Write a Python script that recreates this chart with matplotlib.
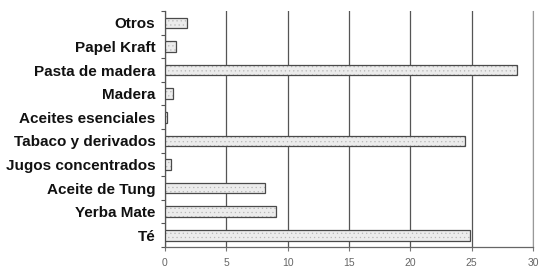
import matplotlib
matplotlib.use("Agg")
import matplotlib.pyplot as plt
import numpy as np

categorias = ["Otros", "Papel Kraft", "Pasta de madera", "Madera", "Aceites esenciales",
              "Tabaco y derivados", "Jugos concentrados", "Aceite de Tung", "Yerba Mate", "Té"]
valores = [1.8, 0.9, 28.7, 0.65, 0.2, 24.5, 0.45, 8.15, 9.05, 24.9]
xticks = [0, 5, 10, 15, 20, 25, 30]

plt.rcParams["font.family"] = ["Liberation Sans", "DejaVu Sans"]
plt.rcParams["hatch.linewidth"] = 0.4

fig = plt.figure(figsize=(5.5, 2.76), dpi=100)
ax = fig.add_axes([0.3, 0.105, 0.669, 0.855])

y = np.arange(len(categorias))
ax.barh(y, valores, height=0.45, color="#ececec", edgecolor="#b8b8b8", hatch="....",
        lw=0, zorder=3)
ax.barh(y, valores, height=0.45, color="none", edgecolor="#4a4a4a", lw=0.9, zorder=4)

ax.set_ylim(len(categorias) - 0.5, -0.5)
ax.set_xlim(0, 30)
ax.set_yticks(y)
ax.set_yticklabels(categorias, fontsize=11, fontweight="bold", color="#111111")
ax.set_yticks(np.arange(len(categorias) + 1) - 0.5, minor=True)
ax.tick_params(axis="y", which="major", length=0, pad=7)
ax.tick_params(axis="y", which="minor", length=3, color="#555555", width=0.8)

ax.set_xticks(xticks)
ax.set_xticklabels([str(v) for v in xticks], fontsize=7.5, color="#666666")
ax.tick_params(axis="x", length=3, color="#777777", width=0.8, pad=5)
ax.grid(axis="x", color="#555555", lw=0.9, zorder=1)

ax.spines["top"].set_visible(False)
ax.spines["right"].set_color("#999999")
ax.spines["right"].set_linewidth(0.8)
ax.spines["left"].set_color("#555555")
ax.spines["left"].set_linewidth(0.9)
ax.spines["bottom"].set_color("#666666")
ax.spines["bottom"].set_linewidth(0.9)

fig.savefig("out.png", dpi=100)
